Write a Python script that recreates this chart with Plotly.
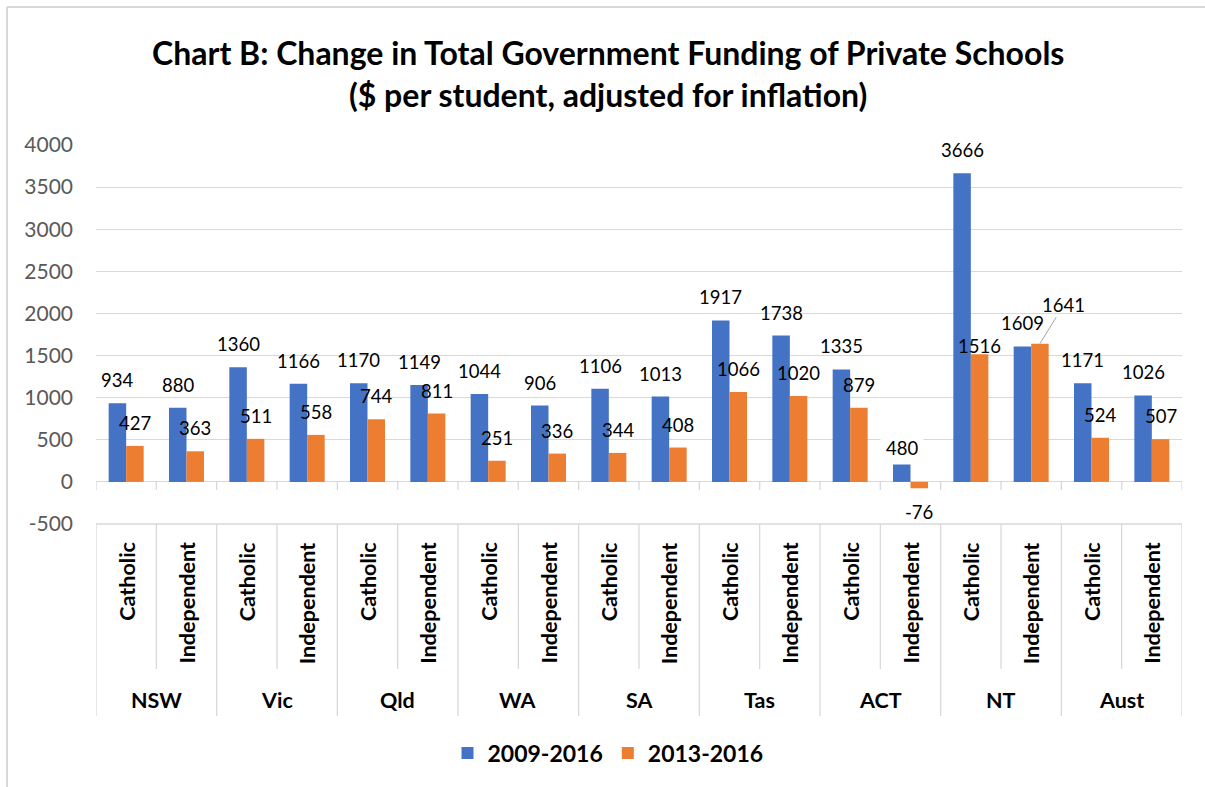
import plotly.graph_objects as go

# ---------------- data ----------------
states = ["NSW", "Vic", "Qld", "WA", "SA", "Tas", "ACT", "NT", "Aust"]
school_types = ["Catholic", "Independent"]
series_names = ["2009-2016", "2013-2016"]
change_2009_2016 = [934, 880, 1360, 1166, 1170, 1149, 1044, 906, 1106, 1013,
                    1917, 1738, 1335, 480, 3666, 1609, 1171, 1026]
change_2013_2016 = [427, 363, 511, 558, 744, 811, 251, 336, 344, 408,
                    1066, 1020, 879, -76, 1516, 1641, 524, 507]
y_ticks = [-500, 0, 500, 1000, 1500, 2000, 2500, 3000, 3500, 4000]
y_tick_text = ["-500", "0", "500", "1000", "1500", "2000", "2500", "3000", "3500", "4000"]
title_line1 = "Chart B: Change in Total Government Funding of Private Schools"
title_line2 = "($ per student, adjusted for inflation)"

# ---------------- styling ----------------
W, H = 1205, 787
L, R, T, B = 96, 23, 145, 263
PW, PH = W - L - R, H - T - B
FONT = "Lato, 'Open Sans', Arial, sans-serif"
BLUE, ORANGE = "#4472C4", "#ED7D31"
GRID = "#D9D9D9"
BARGAP = 0.42


def py(p):  # pixel y -> paper y
    return (H - B - p) / PH


def pxx(p):  # pixel x -> paper x
    return (p - L) / PW


n = len(states) * len(school_types)
xs = list(range(n))
cat_labels = [t for s in states for t in school_types]

fig = go.Figure()
fig.add_trace(go.Bar(x=xs, y=change_2009_2016, name=series_names[0],
                     marker=dict(color=BLUE, line=dict(width=0))))
fig.add_trace(go.Bar(x=xs, y=change_2013_2016, name=series_names[1],
                     marker=dict(color=ORANGE, line=dict(width=0))))

half = (1 - BARGAP) / 4  # offset of each bar centre from category centre

annotations = []
LABEL_FONT = dict(family=FONT, size=18.5, color="#000")
# data labels
for i in xs:
    for series, sgn in ((change_2009_2016, -1), (change_2013_2016, 1)):
        v = series[i]
        xa = i + sgn * half
        if v == 1641:
            annotations.append(dict(x=xa, y=v, xref="x", yref="y", text=str(v),
                                    showarrow=True, arrowhead=0, arrowwidth=1,
                                    arrowcolor="#A6A6A6", ax=24, ay=-39,
                                    standoff=0, font=LABEL_FONT))
            continue
        extra = {}
        ys = 23 if v >= 0 else -24
        if v == 1516:
            ys = 8
        if v == 480:  # label moved down onto the bar, with a white fill
            ys = -7
            extra = dict(bgcolor="white", borderpad=5)
        annotations.append(dict(x=xa, y=v, xref="x", yref="y", text=str(v),
                                showarrow=False, yshift=ys, yanchor="middle",
                                font=LABEL_FONT, **extra))

# inner category labels (rotated)
for i, lab in enumerate(cat_labels):
    annotations.append(dict(x=i, y=py(540), xref="x", yref="paper", text="<b>%s</b>" % lab,
                            textangle=-90, showarrow=False, xanchor="center", yanchor="top",
                            font=dict(family=FONT, size=21.5, color="#000")))
# group labels
for g, s in enumerate(states):
    annotations.append(dict(x=2 * g + 0.5, y=py(700), xref="x", yref="paper",
                            text="<b>%s</b>" % s, showarrow=False,
                            xanchor="center", yanchor="middle",
                            font=dict(family=FONT, size=21.5, color="#000")))
# title
annotations.append(dict(x=pxx(608), y=py(52), xref="paper", yref="paper",
                        text="<b>%s</b>" % title_line1, showarrow=False,
                        xanchor="center", yanchor="middle",
                        font=dict(family=FONT, size=32, color="#000")))
annotations.append(dict(x=pxx(608), y=py(95), xref="paper", yref="paper",
                        text="<b>%s</b>" % title_line2, showarrow=False,
                        xanchor="center", yanchor="middle",
                        font=dict(family=FONT, size=32, color="#000")))

shapes = []
line = dict(color=GRID, width=1.3)
# tick marks along the zero line
for k in range(n + 1):
    shapes.append(dict(type="line", xref="x", yref="paper", x0=k - 0.5, x1=k - 0.5,
                       y0=py(482), y1=py(490), line=line, layer="below"))
# table: top border
shapes.append(dict(type="line", xref="x", yref="paper", x0=-0.5, x1=n - 0.5,
                   y0=0, y1=0, line=line))
# table: vertical dividers
for k in range(n + 1):
    bottom = py(716) if k % 2 == 0 else py(669)
    shapes.append(dict(type="line", xref="x", yref="paper", x0=k - 0.5, x1=k - 0.5,
                       y0=0, y1=bottom, line=line))
# outer chart frame (left and top edges visible)
shapes.append(dict(type="line", xref="paper", yref="paper", x0=pxx(7), x1=pxx(7),
                   y0=py(7), y1=py(800), line=dict(color=GRID, width=2)))
shapes.append(dict(type="line", xref="paper", yref="paper", x0=pxx(7), x1=pxx(1220),
                   y0=py(7), y1=py(7), line=dict(color=GRID, width=2)))

fig.update_layout(
    width=W, height=H,
    margin=dict(l=L, r=R, t=T, b=B, autoexpand=False),
    paper_bgcolor="white", plot_bgcolor="white",
    barmode="group", bargap=BARGAP, bargroupgap=0,
    font=dict(family=FONT, color="#000"),
    showlegend=True,
    legend=dict(orientation="h", x=pxx(608), y=py(753), xanchor="center", yanchor="middle",
                font=dict(family=FONT, size=23, color="#000", weight="bold"),
                itemwidth=30, bgcolor="rgba(0,0,0,0)"),
    xaxis=dict(range=[-0.5, n - 0.5], showticklabels=False, showgrid=False,
               zeroline=False, showline=False, ticks="", fixedrange=True),
    yaxis=dict(range=[-500, 4000], tickvals=y_ticks, ticktext=y_tick_text,
               showgrid=True, gridcolor=GRID, fixedrange=True,
               gridwidth=1.3, zeroline=True, zerolinecolor=GRID, zerolinewidth=1.3,
               showline=False, ticks="", ticklabelstandoff=22,
               tickfont=dict(family=FONT, size=21, color="#595959")),
    annotations=annotations,
    shapes=shapes,
)

fig.write_html("out.html", config={"displayModeBar": False},
               post_script="document.body.style.margin='0';document.body.style.padding='0';")
